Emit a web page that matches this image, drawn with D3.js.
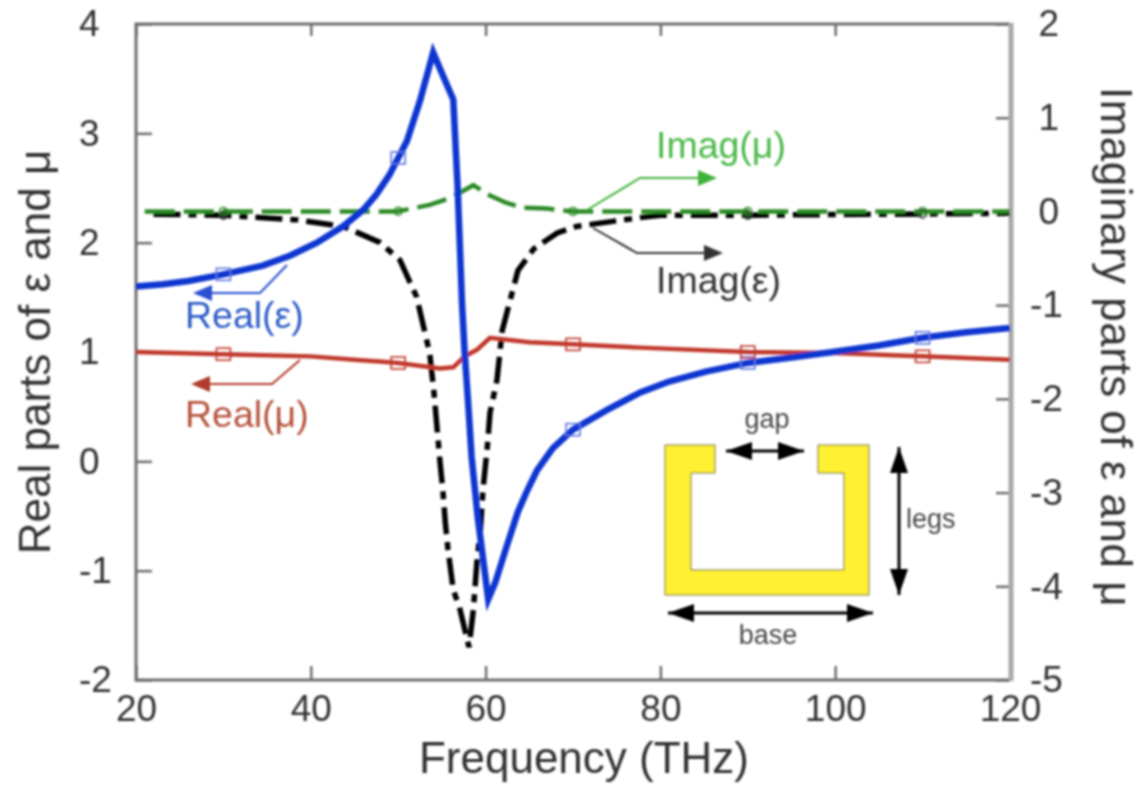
<!DOCTYPE html>
<html>
<head>
<meta charset="utf-8">
<script src="https://cdn.jsdelivr.net/npm/d3@7"></script>
<style>
  html, body { margin: 0; background: #fff; }
  svg { display: block; font-family: "Liberation Sans", Arial, sans-serif; }
</style>
</head>
<body>
<div id="chart"></div>
<script>
// values: [frequency THz, value]
const realEps = [[20,1.6],[23.1,1.62],[26,1.65],[30,1.71],[34.5,1.79],[37.6,1.88],[40.7,2.0],[43.7,2.15],[46,2.3],[47.5,2.44],[49,2.62],[51,2.93],[52.5,3.3],[54,3.74],[55,3.55],[56.3,3.31],[56.8,2.51],[57.3,1.45],[57.6,1.0],[58,0.54],[58.4,0.04],[59.1,-0.51],[60.3,-1.26],[61.1,-1.11],[62.4,-0.78],[63.7,-0.46],[64.8,-0.26],[65.9,-0.08],[67.7,0.12],[70,0.29],[73.9,0.47],[77.7,0.63],[81,0.73],[85.2,0.82],[90,0.9],[95,0.95],[99.7,1.0],[105,1.06],[110,1.13],[115,1.18],[120,1.22]];
const realMu = [[20,1.0],[30,0.98],[40,0.96],[45,0.93],[50,0.9],[54.8,0.85],[56.3,0.86],[57.6,0.96],[59,1.02],[60.5,1.13],[65,1.09],[70,1.07],[77.7,1.04],[90,1.0],[100,0.99],[110,0.96],[120,0.93]];
const imagEps = [[22,-0.03],[30,-0.04],[38.4,-0.09],[43.7,-0.16],[47.9,-0.33],[50.2,-0.52],[52.1,-0.91],[53.6,-1.51],[54.1,-1.94],[54.8,-2.69],[55.1,-2.97],[55.4,-3.33],[55.7,-3.61],[56.3,-4.04],[57,-4.22],[58.1,-4.65],[58.6,-4.25],[59,-3.75],[59.4,-3.4],[59.7,-2.97],[60.2,-2.51],[60.5,-2.15],[61.3,-1.8],[61.9,-1.27],[63.7,-0.63],[65.5,-0.4],[68.2,-0.23],[70.4,-0.16],[77.3,-0.07],[80,-0.04],[90,-0.04],[120,-0.02]];
const imagMu = [[21,0],[30,0],[40,0],[45,0],[49.9,0],[53.6,0.07],[55.9,0.14],[58.6,0.28],[60.5,0.17],[62.4,0.09],[64.3,0.04],[67,0.03],[70,0],[80,0],[90,0],[120,0]];

const markerFreqs = [30, 50, 70, 90, 110];
const imagEpsMarkerFreqs = [30, 90, 110]; // the others are lost in the dashes
const xTicks = [20, 40, 60, 80, 100, 120];
const leftTicks = [-2, -1, 0, 1, 2, 3, 4];
const rightTicks = [-5, -4, -3, -2, -1, 0, 1, 2];

const width = 1142, height = 786;
const plot = { left: 136, right: 1010, top: 24, bottom: 680 };

const svg = d3.select('#chart').append('svg')
    .attr('width', width)
    .attr('height', height);

// the source is a soft, upscaled bitmap
svg.append('defs').append('filter').attr('id', 'soft')
    .append('feGaussianBlur').attr('stdDeviation', 0.8);

const root = svg.append('g').attr('filter', 'url(#soft)');

const x = d3.scaleLinear().domain([20, 120]).range([plot.left, plot.right]);
const yLeft = d3.scaleLinear().domain([-2, 4]).range([plot.bottom, plot.top]);
const yRight = d3.scaleLinear().domain([-5, 2]).range([plot.bottom, plot.top]);

// 1. Axes, ticks point inward
const axisColor = '#6e6e6e';
const textColor = '#333';
function styleAxis(g) {
    g.select('.domain').remove();
    g.selectAll('.tick line').attr('stroke', axisColor).attr('stroke-width', 2.5);
    g.selectAll('.tick text')
        .attr('fill', textColor)
        .attr('font-size', 37)
        .attr('font-family', '"Liberation Sans", Arial, sans-serif');
}

root.append('g')
    .attr('transform', `translate(0,${plot.bottom})`)
    .call(d3.axisBottom(x).tickValues(xTicks).tickFormat(d3.format('d')).tickSize(-14).tickPadding(15))
    .call(styleAxis);
root.append('g')
    .attr('transform', `translate(0,${plot.top})`)
    .call(d3.axisTop(x).tickValues(xTicks).tickFormat('').tickSize(-12))
    .call(styleAxis);
// plain hyphen on the negative labels, labels flush at the same left edge
root.append('g')
    .attr('transform', `translate(${plot.left},0)`)
    .call(d3.axisLeft(yLeft).tickValues(leftTicks).tickFormat(d => String(d)).tickSize(-16))
    .call(styleAxis)
    .selectAll('.tick text')
    .attr('text-anchor', 'start')
    .attr('x', 79 - plot.left);
root.append('g')
    .attr('transform', `translate(${plot.right},0)`)
    .call(d3.axisRight(yRight).tickValues(rightTicks).tickFormat(d => String(d)).tickSize(-14))
    .call(styleAxis)
    .selectAll('.tick text')
    .attr('text-anchor', d => d < 0 ? 'start' : 'end')
    .attr('x', d => (d < 0 ? 1030 : 1059) - plot.right);

root.append('path')
    .attr('d', d3.line()([[plot.right, plot.top], [plot.left, plot.top], [plot.left, plot.bottom], [plot.right, plot.bottom]]))
    .attr('fill', 'none').attr('stroke', axisColor).attr('stroke-width', 3);
root.append('line')
    .attr('x1', plot.right + 1).attr('x2', plot.right + 1)
    .attr('y1', plot.top - 1).attr('y2', plot.bottom + 1)
    .attr('stroke', '#a8a8a8').attr('stroke-width', 5);

// 2. Curves
const lineOn = y => d3.line().x(d => x(d[0])).y(d => y(d[1]));

const series = [
    { data: imagEps, y: yRight, color: '#000', w: 5.5, dash: '27 8 8 8' },
    { data: imagMu, y: yRight, color: '#2c8a26', w: 4.5, dash: '30 9' },
    { data: realMu, y: yLeft, color: '#c0392b', w: 4.5, dash: null },
    { data: realEps, y: yLeft, color: '#0b36d0', w: 6.5, dash: null }
];

series.forEach(s => {
    root.append('path')
        .attr('d', lineOn(s.y)(s.data))
        .attr('fill', 'none')
        .attr('stroke', s.color)
        .attr('stroke-width', s.w)
        .attr('stroke-dasharray', s.dash);
});

// small open markers sit on the curves every 20 THz
function valueAt(data, f) {
    const i = d3.bisector(d => d[0]).left(data, f);
    if (i <= 0) return data[0][1];
    const a = data[i - 1], b = data[i];
    return a[1] + (b[1] - a[1]) * (f - a[0]) / (b[0] - a[0]);
}

[[realEps, '#5a74e0'], [realMu, '#c0392b']].forEach(([data, color]) => {
    root.append('g').selectAll('rect')
        .data(markerFreqs)
        .join('rect')
        .attr('x', d => x(d) - 7)
        .attr('y', d => yLeft(valueAt(data, d)) - 6)
        .attr('width', 14)
        .attr('height', 12)
        .attr('fill', 'none')
        .attr('stroke', color)
        .attr('stroke-width', 1.6);
});
[[imagEps, '#333', imagEpsMarkerFreqs], [imagMu, '#2c8a26', markerFreqs]].forEach(([data, color, freqs]) => {
    root.append('g').selectAll('circle')
        .data(freqs)
        .join('circle')
        .attr('cx', d => x(d))
        .attr('cy', d => yRight(valueAt(data, d)))
        .attr('r', 4)
        .attr('fill', 'none')
        .attr('stroke', color)
        .attr('stroke-width', 1.5);
});

// 3. Axis titles
root.append('text')
    .attr('x', 584).attr('y', 773)
    .attr('text-anchor', 'middle')
    .attr('font-size', 44)
    .attr('fill', textColor)
    .text('Frequency (THz)');
root.append('text')
    .attr('transform', 'translate(50,352) rotate(-90)')
    .attr('text-anchor', 'middle')
    .attr('font-size', 44)
    .attr('fill', textColor)
    .text('Real parts of ε and μ');
root.append('text')
    .attr('transform', 'translate(1101,347) rotate(90)')
    .attr('text-anchor', 'middle')
    .attr('font-size', 44)
    .attr('letter-spacing', 0.5)
    .attr('fill', textColor)
    .text('Imaginary parts of ε and μ');

// 4. Curve labels with leader arrows
const callouts = [
    { text: 'Real(ε)', color: '#2f5cc8', line: '#2a4fd0', tx: 185, ty: 328, pts: [[287, 265], [260, 293], [205, 293]], tip: 193, dir: -1 },
    { text: 'Real(μ)', color: '#b5533c', line: '#b03a2a', tx: 185, ty: 427, pts: [[300, 360], [272, 384], [203, 384]], tip: 191, dir: -1 },
    { text: 'Imag(μ)', color: '#4cb848', line: '#43b13a', tx: 656, ty: 158, pts: [[587, 210], [640, 178], [700, 178]], tip: 717, dir: 1 },
    { text: 'Imag(ε)', color: '#333', line: '#333', tx: 656, ty: 293, pts: [[593, 228], [637, 253], [706, 253]], tip: 723, dir: 1 }
];

callouts.forEach(c => {
    const end = c.pts[c.pts.length - 1];
    root.append('path')
        .attr('d', d3.line()(c.pts))
        .attr('fill', 'none')
        .attr('stroke', c.line)
        .attr('stroke-width', 2);
    root.append('path')
        .attr('d', d3.line()([[c.tip, end[1]], [c.tip - c.dir * 19, end[1] - 8], [c.tip - c.dir * 19, end[1] + 8]]) + 'Z')
        .attr('fill', c.line);
    root.append('text')
        .attr('x', c.tx).attr('y', c.ty)
        .attr('font-size', 37.5)
        .attr('fill', c.color)
        .text(c.text);
});

// 5. Split ring inset, a schematic so it is laid out in page pixels
const ring = [[665, 445], [715, 445], [715, 473], [691, 473], [691, 570], [844, 570], [844, 473], [818, 473], [818, 445], [869, 445], [869, 595], [665, 595]];
root.append('path')
    .attr('d', d3.line()(ring) + 'Z')
    .attr('fill', '#fff133')
    .attr('stroke', '#66664a')
    .attr('stroke-width', 1);

function doubleArrow(x1, y1, x2, y2) {
    const len = Math.hypot(x2 - x1, y2 - y1);
    const ux = (x2 - x1) / len, uy = (y2 - y1) / len;
    root.append('line')
        .attr('x1', x1).attr('y1', y1).attr('x2', x2).attr('y2', y2)
        .attr('stroke', '#000').attr('stroke-width', 3);
    [[x1, y1, 1], [x2, y2, -1]].forEach(([px, py, s]) => {
        const bx = px + s * ux * 26, by = py + s * uy * 26;
        root.append('path')
            .attr('d', d3.line()([[px, py], [bx - uy * 9, by + ux * 9], [bx + uy * 9, by - ux * 9]]) + 'Z')
            .attr('fill', '#000');
    });
}
doubleArrow(726, 451, 804, 451);
doubleArrow(899, 447, 899, 595);
doubleArrow(668, 613, 873, 613);

[['gap', 767, 428, 'middle'], ['legs', 906, 528, 'start'], ['base', 768, 644, 'middle']].forEach(([t, tx, ty, anchor]) => {
    root.append('text')
        .attr('x', tx).attr('y', ty)
        .attr('text-anchor', anchor)
        .attr('font-size', 27)
        .attr('fill', '#484848')
        .text(t);
});
</script>
</body>
</html>
